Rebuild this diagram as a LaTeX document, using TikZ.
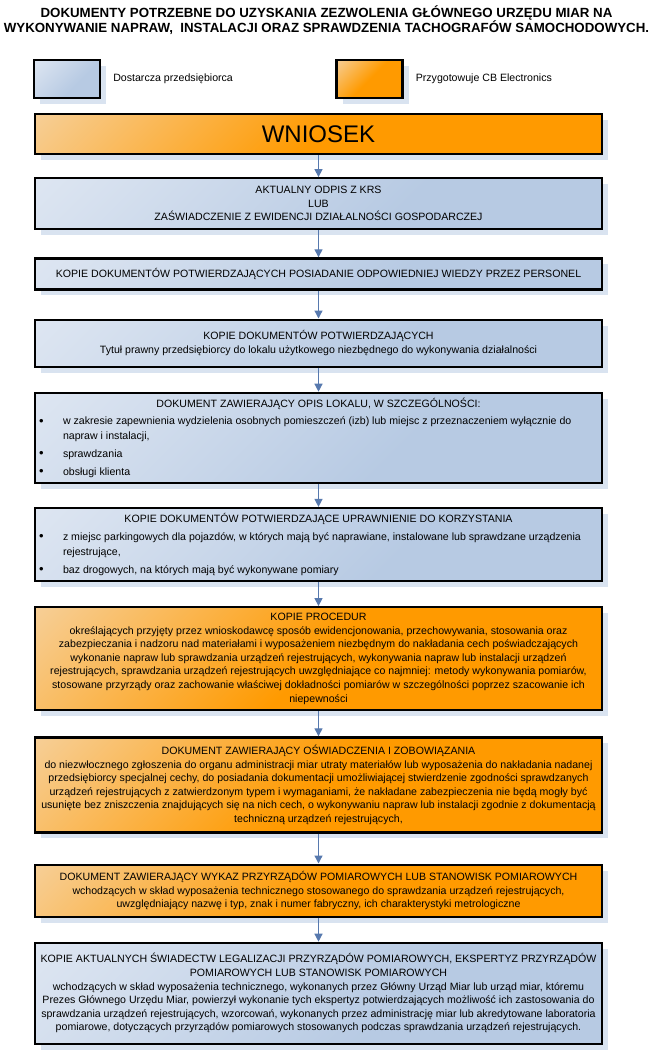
\documentclass[tikz,border=0pt]{standalone}
\usepackage{fontspec}
\setmainfont{Liberation Sans}
\usetikzlibrary{arrows.meta,positioning,shadows}
\usepackage{xcolor}
\definecolor{dostawca}{HTML}{B7CAE3}
\definecolor{dostawcajasny}{HTML}{E9EEF6}
\definecolor{cbe}{HTML}{FF9A00}
\definecolor{cbejasny}{HTML}{F3E4D4}
\definecolor{cien}{HTML}{D9E3F0}
\definecolor{ink}{HTML}{000000}
\definecolor{strz}{HTML}{5779AE}
\pgfdeclareverticalshading{dostgrad}{100bp}{color(0bp)=(dostawca); color(40bp)=(dostawca); color(75bp)=(dostawcajasny!60!dostawca); color(100bp)=(dostawcajasny)}
\pgfdeclareverticalshading{cbegrad}{100bp}{color(0bp)=(cbe); color(50bp)=(cbe); color(75bp)=(cbejasny!50!cbe); color(100bp)=(cbejasny)}
\tikzset{
  >={Triangle[width=8pt,length=8pt]},
  every node/.style={font=\fontsize{10.6}{13.6}\selectfont,text=ink},
  box/.style={draw=ink,line width=2.2pt,minimum width=567pt,align=center,inner xsep=4pt,inner ysep=3pt,
    drop shadow={fill=cien,opacity=1,shadow xshift=6pt,shadow yshift=-6pt}},
  bluebox/.style={box,shade,shading=dostgrad,shading angle=45},
  orangebox/.style={box,shade,shading=cbegrad,shading angle=45},
  legbox/.style={minimum width=66pt,minimum height=38pt},
  legtext/.style={inner sep=0pt},
  arrow/.style={->,line width=1.3pt,draw=strz},
}
\newcommand{\szer}{559pt}
\newcommand{\pkt}[1]{\makebox[\szer][l]{\makebox[24pt][l]{\raisebox{-.5pt}{\fontsize{13}{13}\selectfont\textbullet}}#1}}
\newcommand{\dalej}[1]{\makebox[\szer][l]{\hspace*{24pt}#1}}

\begin{document}
\begin{tikzpicture}[node distance=24pt]
\useasboundingbox (0,0) rectangle (653pt,-1051pt);

% naglowek
\node[align=center,font=\bfseries\fontsize{13.3}{15.5}\selectfont] (tytul) at (326.5pt,-20pt)
{DOKUMENTY POTRZEBNE DO UZYSKANIA ZEZWOLENIA GŁÓWNEGO URZĘDU MIAR NA\\WYKONYWANIE NAPRAW,\ \ INSTALACJI ORAZ SPRAWDZENIA TACHOGRAFÓW SAMOCHODOWYCH.};

% legenda
\node[bluebox,legbox] (legA) at (67pt,-79pt) {};
\node[legtext,right=12pt of legA] (legAtxt) {Dostarcza przedsiębiorca};
\node[orangebox,legbox] (legB) at (369.5pt,-79pt) {};
\node[legtext,right=12pt of legB] (legBtxt) {Przygotowuje CB Electronics};

% lancuch dokumentow
\node[orangebox,minimum height=40pt,font=\fontsize{24}{28}\selectfont] (wniosek) at (318.5pt,-134pt) {WNIOSEK};
\node[bluebox,minimum height=51pt,below=22pt of wniosek] (krs)
{AKTUALNY ODPIS Z KRS\\LUB\\ZAŚWIADCZENIE Z EWIDENCJI DZIAŁALNOŚCI GOSPODARCZEJ};
\node[bluebox,minimum height=31pt,below=27pt of krs] (kadra)
{KOPIE DOKUMENTÓW POTWIERDZAJĄCYCH POSIADANIE ODPOWIEDNIEJ WIEDZY PRZEZ PERSONEL};
\node[bluebox,minimum height=47pt,below=28pt of kadra] (tytul2)
{KOPIE DOKUMENTÓW POTWIERDZAJĄCYCH\\[1pt]Tytuł prawny przedsiębiorcy do lokalu użytkowego niezbędnego do wykonywania działalności};
\node[bluebox,minimum height=90pt] (lokal) [below=of tytul2]
{DOKUMENT ZAWIERAJĄCY OPIS LOKALU, W SZCZEGÓLNOŚCI:\\[3.5pt]
\pkt{w zakresie zapewnienia wydzielenia osobnych pomieszczeń (izb) lub miejsc z przeznaczeniem wyłącznie do}\\[1pt]
\dalej{napraw i instalacji,}\\[4.5pt]
\pkt{sprawdzania}\\[4.5pt]
\pkt{obsługi klienta}};
\node[bluebox,minimum height=73pt,below=23pt of lokal] (parking)
{KOPIE DOKUMENTÓW POTWIERDZAJĄCE UPRAWNIENIE DO KORZYSTANIA\\[4pt]
\pkt{z miejsc parkingowych dla pojazdów, w których mają być naprawiane, instalowane lub sprawdzane urządzenia}\\[1pt]
\dalej{rejestrujące,}\\[4.5pt]
\pkt{baz drogowych, na których mają być wykonywane pomiary}};
\node[orangebox,minimum height=103pt,below=of parking] (proc)
{KOPIE PROCEDUR\\
określających przyjęty przez wnioskodawcę sposób ewidencjonowania, przechowywania, stosowania oraz\\
zabezpieczania i nadzoru nad materiałami i wyposażeniem niezbędnym do nakładania cech poświadczających\\
wykonanie napraw lub sprawdzania urządzeń rejestrujących, wykonywania napraw lub instalacji urządzeń\\
rejestrujących, sprawdzania urządzeń rejestrujących uwzględniające co najmniej: metody wykonywania pomiarów,\\
stosowane przyrządy oraz zachowanie właściwej dokładności pomiarów w szczególności poprzez szacowanie ich\\
niepewności};
\node[orangebox,minimum height=95pt,below=25pt of proc] (oswiad)
{DOKUMENT ZAWIERAJĄCY OŚWIADCZENIA I ZOBOWIĄZANIA\\
do niezwłocznego zgłoszenia do organu administracji miar utraty materiałów lub wyposażenia do nakładania nadanej\\
przedsiębiorcy specjalnej cechy, do posiadania dokumentacji umożliwiającej stwierdzenie zgodności sprawdzanych\\
urządzeń rejestrujących z zatwierdzonym typem i wymaganiami, że nakładane zabezpieczenia nie będą mogły być\\
usunięte bez zniszczenia znajdujących się na nich cech, o wykonywaniu napraw lub instalacji zgodnie z dokumentacją\\
techniczną urządzeń rejestrujących,};
\node[orangebox,minimum height=52pt,below=30pt of oswiad] (wykaz)
{DOKUMENT ZAWIERAJĄCY WYKAZ PRZYRZĄDÓW POMIAROWYCH LUB STANOWISK POMIAROWYCH\\
wchodzących w skład wyposażenia technicznego stosowanego do sprawdzania urządzeń rejestrujących,\\
uwzględniający nazwę i typ, znak i numer fabryczny, ich charakterystyki metrologiczne};
\node[bluebox,minimum height=101pt,below=of wykaz] (swiad)
{KOPIE AKTUALNYCH ŚWIADECTW LEGALIZACJI PRZYRZĄDÓW POMIAROWYCH, EKSPERTYZ PRZYRZĄDÓW\\
POMIAROWYCH LUB STANOWISK POMIAROWYCH\\
wchodzących w skład wyposażenia technicznego, wykonanych przez Główny Urząd Miar lub urząd miar, któremu\\
Prezes Głównego Urzędu Miar, powierzył wykonanie tych ekspertyz potwierdzających możliwość ich zastosowania do\\
sprawdzania urządzeń rejestrujących, wzorcowań, wykonanych przez administrację miar lub akredytowane laboratoria\\
pomiarowe, dotyczących przyrządów pomiarowych stosowanych podczas sprawdzania urządzeń rejestrujących.};

% strzalki
\draw[arrow] (wniosek) -- (krs);
\draw[arrow] (krs) -- (kadra);
\draw[arrow] (kadra) -- (tytul2);
\draw[arrow] (tytul2) -- (lokal);
\draw[arrow] (lokal) -- (parking);
\draw[arrow] (parking) -- (proc);
\draw[arrow] (proc) -- (oswiad);
\draw[arrow] (oswiad) -- (wykaz);
\draw[arrow] (wykaz) -- (swiad);

\end{tikzpicture}
\end{document}
